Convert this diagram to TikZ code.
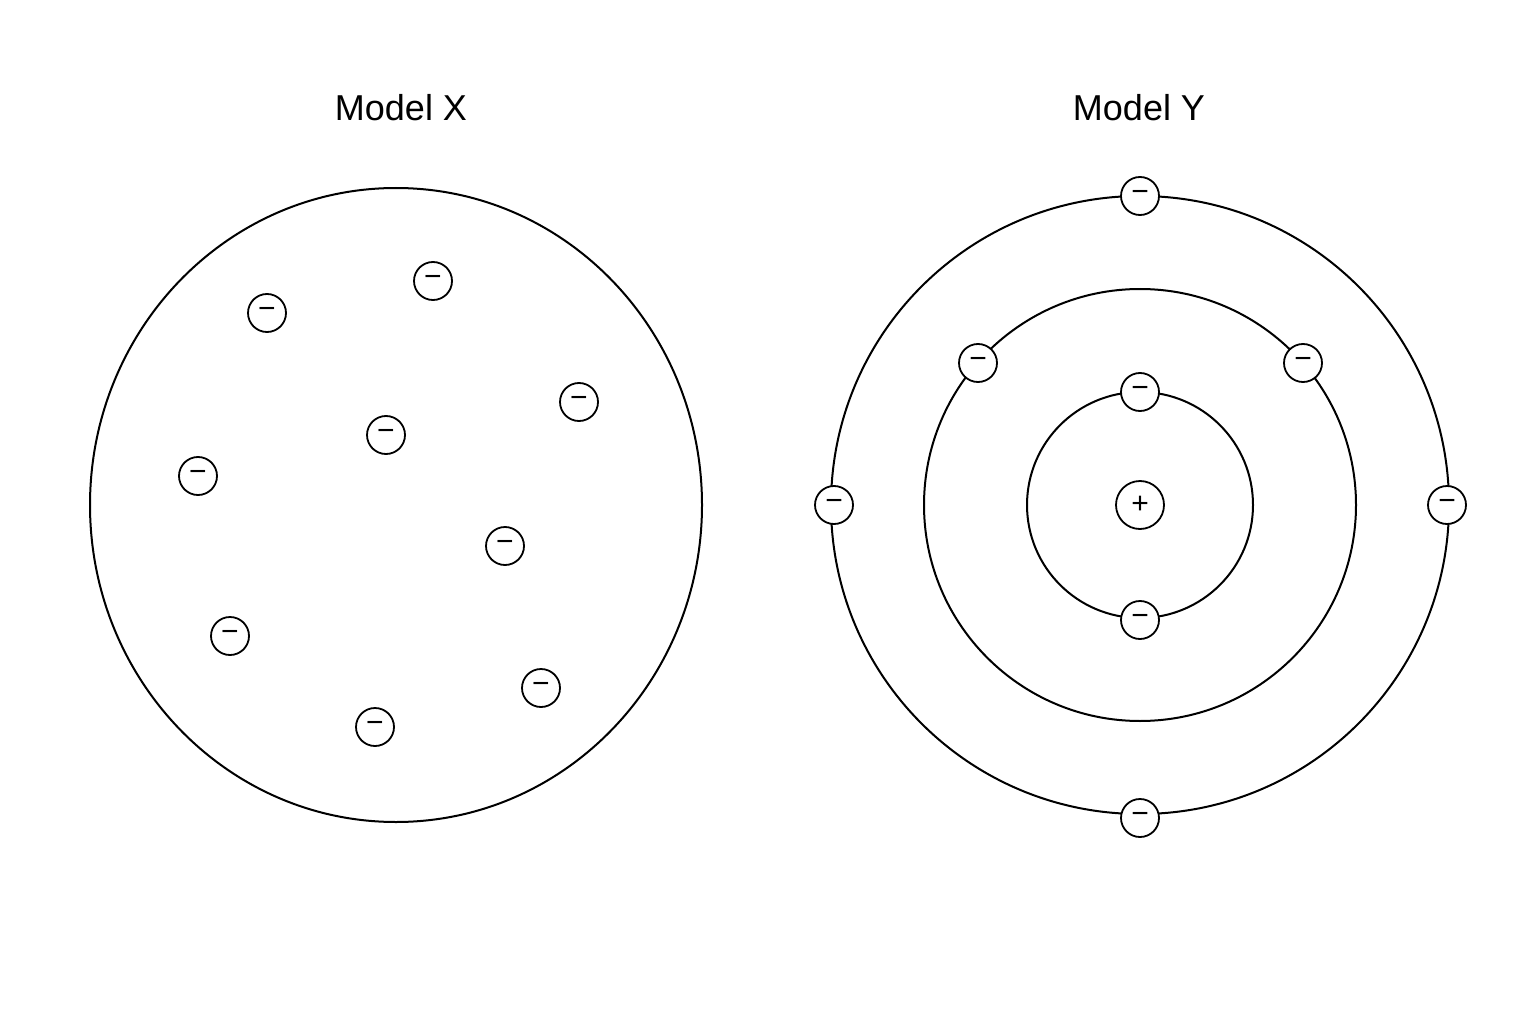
\documentclass[tikz,border=0pt]{standalone}
\usepackage{fontspec}
\setmainfont{Liberation Sans}
\begin{document}
\begin{tikzpicture}[x=1pt,y=-1pt,
  orbit/.style={draw=black,line width=2pt},
  el/.style={circle,draw=black,line width=1.8pt,fill=white,minimum size=38pt,inner sep=0pt,font=\fontsize{30}{30}\selectfont},
  nuc/.style={el,minimum size=48pt},
  title/.style={font=\fontsize{36}{40}\selectfont}]
\useasboundingbox (0,0) rectangle (1536,1024);
\node[title] (tx) at (401,108) {Model X};
\node[title] (ty) at (1139,108) {Model Y};
\draw[orbit] (396,505) ellipse [x radius=306, y radius=317];
\foreach \p [count=\i] in {(433,281),(267,313),(579,402),(386,435),(198,476),(505,546),(230,636),(541,688),(375,727)}
  \node[el] (x\i) at \p {−};
\coordinate (c) at (1140,505);
\draw[orbit] (c) circle [radius=309];
\draw[orbit] (c) circle [radius=216];
\draw[orbit] (c) circle [radius=113];
\node[nuc] (n) at (c) {+};
\node[el] (o1) at (1140,196) {−};
\node[el] (o2) at (834,505) {−};
\node[el] (o3) at (1447,505) {−};
\node[el] (o4) at (1140,818) {−};
\node[el] (m1) at (978,363) {−};
\node[el] (m2) at (1303,363) {−};
\node[el] (i1) at (1140,392) {−};
\node[el] (i2) at (1140,620) {−};
\end{tikzpicture}
\end{document}
